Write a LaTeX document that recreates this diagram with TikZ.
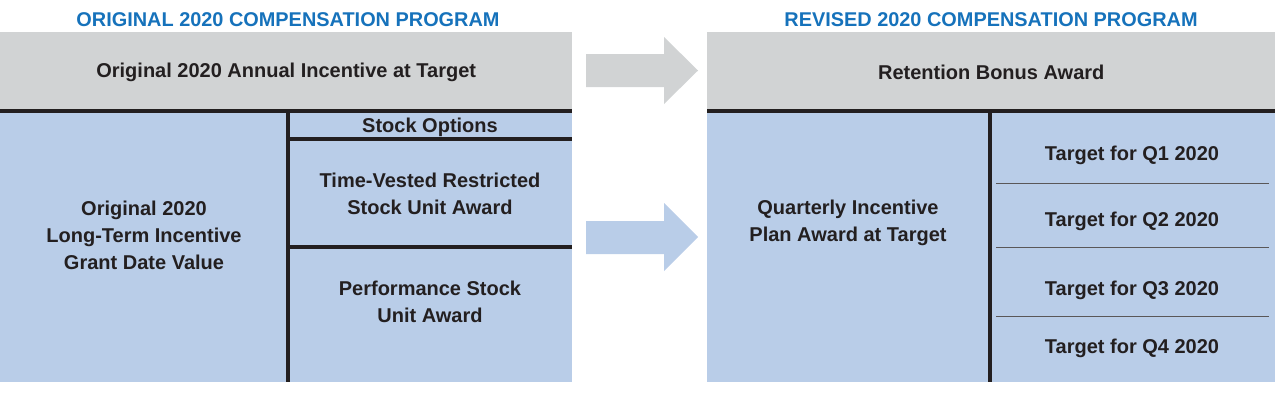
\documentclass[tikz,border=0pt]{standalone}
\usepackage{fontspec}
\setmainfont{Liberation Sans}
\usetikzlibrary{positioning}
\definecolor{titleblue}{RGB}{22,114,187}
\definecolor{boxgray}{RGB}{209,211,212}
\definecolor{boxblue}{RGB}{185,205,232}
\definecolor{inkdark}{RGB}{35,31,32}

\begin{document}
\begin{tikzpicture}[x=1pt, y=-1pt, text=inkdark, font=\bfseries\fontsize{20}{27}\selectfont,
    heading/.style={font=\bfseries\fontsize{19.9}{22}\selectfont, text=titleblue},
    graycell/.style={fill=boxgray, inner sep=0pt, anchor=north west},
    bluecell/.style={fill=boxblue, inner sep=0pt, anchor=north west},
    rule/.style={draw=inkdark, line width=4pt},
    thinrule/.style={draw=inkdark!75, line width=0.8pt},
    cell/.style={align=center, inner sep=0pt}]
      \useasboundingbox (0,0) rectangle (1281,392);

      % panels
      \node[graycell, minimum width=572pt, minimum height=80pt] (annual) at (0,32) {Original 2020 Annual Incentive at Target};
      \node[bluecell, minimum width=572pt, minimum height=271pt] (lti) at (0,111) {};
      \node[graycell, minimum width=568pt, minimum height=80pt] (bonus) at (707,32) {Retention Bonus Award};
      \node[bluecell, minimum width=568pt, minimum height=271pt] (qip) at (707,111) {};

      \node[heading] (origtitle) at (288,20) {ORIGINAL 2020 COMPENSATION PROGRAM};
      \node[heading] (revtitle) at (991,20) {REVISED 2020 COMPENSATION PROGRAM};

      % dividers
      \coordinate (lsplit) at (288,111);
      \coordinate (optcut) at (288,139);
      \coordinate (rsucut) at (288,247);
      \coordinate (rsplit) at (990,111);
      \draw[rule] (lti.north west) -- (lti.north east);
      \draw[rule] (qip.north west) -- (qip.north east);
      \draw[rule] (lsplit) -- (lsplit |- lti.south);
      \draw[rule] (optcut) -- (optcut -| lti.east);
      \draw[rule] (rsucut) -- (rsucut -| lti.east);
      \draw[rule] (rsplit) -- (rsplit |- qip.south);
      \foreach \y in {183,247,316}
        \draw[thinrule] (996,\y) -- (1269,\y);

      % labels
      \node[cell] (ltilbl) at (144,235) {Original 2020\\Long-Term Incentive\\Grant Date Value};
      \node[cell] (optlbl) at (430,127) {Stock Options};
      \node[cell] (rsulbl) at (430,194) {Time-Vested Restricted\\Stock Unit Award};
      \node[cell] (psulbl) at (430,302) {Performance Stock\\Unit Award};
      \node[cell] (qiplbl) at (848,223) {Quarterly Incentive\\Plan Award at Target};
      \foreach \q/\y in {1/155,2/221,3/290,4/348}
        \node[cell] (q\q) at (1132,\y) {Target for Q\q{} 2020};

      % block arrows
      \fill[boxgray] (586,54) -- (664,54) -- (664,37) -- (698,70.5) -- (664,104) -- (664,87) -- (586,87) -- cycle;
      \fill[boxblue] (586,221) -- (664,221) -- (664,203) -- (698,237) -- (664,271) -- (664,254) -- (586,254) -- cycle;
    \end{tikzpicture}
\end{document}
